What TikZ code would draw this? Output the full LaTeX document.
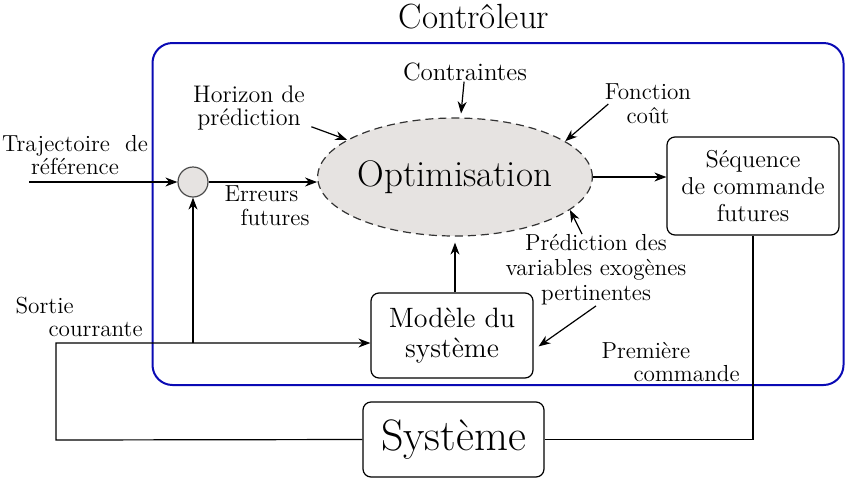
\documentclass[tikz,border=0pt]{standalone}
\usepackage{tikz}
\usetikzlibrary{arrows.meta, positioning, shapes.geometric}

\definecolor{gris}{HTML}{E6E3E1}
\definecolor{bleu}{HTML}{0A0AB4}

\begin{document}
\begin{tikzpicture}[
    x=0.5pt, y=-0.5pt,
    >={Stealth[length=6pt, width=4.5pt]},
    line width=0.6pt,
    lbl/.style={font=\fontsize{11.6}{11.8}\selectfont, align=center, inner sep=0pt},
    bloc/.style={draw, rounded corners=4pt, align=center, inner sep=0pt},
    cadre/.style={draw=bleu, line width=1pt, rounded corners=10pt, inner sep=0pt}
]
    \useasboundingbox (0,0) rectangle (846,483);

    % Contrôleur
    \node[cadre, minimum width=345.5pt, minimum height=171pt] (ctrl) at (498,214) {};
    \node[font=\fontsize{17.5}{20}\selectfont] (titre) at (474,17) {Contrôleur};

    % blocs
    \node[ellipse, draw=black!80, dashed, dash pattern=on 4pt off 2.5pt, fill=gris,
          minimum width=115.5pt, minimum height=59pt, inner sep=0pt,
          font=\fontsize{18.5}{20}\selectfont] (optim) at (455,177) {Optimisation};
    \node[circle, draw=black!70, fill=gris, minimum size=15pt, inner sep=0pt] (somme) at (193,182) {};
    \node[bloc, minimum width=86pt, minimum height=49pt,
          font=\fontsize{12.2}{13.5}\selectfont] (sequence) at (753,186) {Séquence\\de commande\\futures};
    \node[bloc, minimum width=81pt, minimum height=42.5pt,
          font=\fontsize{14}{15}\selectfont] (modele) at (452,335.5) {Modèle du\\système};
    \node[bloc, minimum width=90.5pt, minimum height=37.5pt,
          font=\fontsize{22}{24}\selectfont] (systeme) at (453.5,439.5) {Système};

    % textes
    \node[lbl, font=\fontsize{12.5}{13}\selectfont] (contraintes) at (465,72) {Contraintes};
    \node[lbl, font=\fontsize{12}{11.5}\selectfont] (horizon) at (249,108) {Horizon de\\prédiction};
    \node[lbl] (fonction) at (648,104) {Fonction\\coût};
    \node[lbl] (trajectoire) at (75,155) {Trajectoire~~de\\référence};
    \node[lbl, align=left, anchor=west] (erreurs) at (224,206) {Erreurs\\\hspace*{8pt}futures};
    \node[lbl, font=\fontsize{11.6}{12.5}\selectfont] (prediction) at (596,270) {Prédiction des\\variables exogènes\\pertinentes};
    \node[lbl, align=left, anchor=west] (sortie) at (15,317) {Sortie\\\hspace*{16.5pt}courrante};
    \node[lbl, align=left, anchor=west] (premiere) at (601,362) {Première\\\hspace*{16pt}commande};

    % points de passage
    \coordinate (entree) at (29,182);
    \coordinate (coinbas) at (56,440);
    \coordinate (coinhaut) at (56,343);
    \coordinate (branche) at (193,343);

    % liaisons
    \draw[->] (entree) -- (somme);
    \draw[->] (somme.east) -- (somme.east -| optim.west);
    \draw[->, shorten >=2pt] (contraintes) -- (optim);
    \draw[->] ([shift={(6,-4)}]horizon.south east) -- (optim.161);
    \draw[->] ([xshift=2pt]fonction.west) -- (optim.18);
    \draw[->] ([xshift=-7pt]prediction.north) -- (optim.-16);
    \draw[->, shorten >=3pt] (prediction.south) -- (modele.-10);
    \draw[->, shorten >=3pt] (modele.north -| optim.south) -- (optim.south);
    \draw[->] (optim.east) -- (sequence.west |- optim.east);
    \draw (sequence.south) |- (systeme.east);
    \draw[->] (systeme.west) -- (coinbas) -- (coinhaut) -- (coinhaut -| modele.west);
    \draw[->] (branche) -- (somme);
\end{tikzpicture}
\end{document}
